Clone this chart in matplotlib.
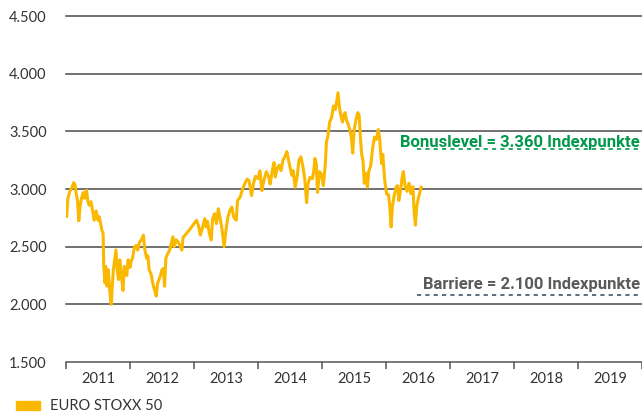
import matplotlib
matplotlib.use("Agg")
import matplotlib.pyplot as plt
from matplotlib.patches import Rectangle

# ---- data (decimal year, index level) ----
t = [2011.00, 2011.01, 2011.03, 2011.06, 2011.09, 2011.12, 2011.14, 2011.16, 2011.18, 2011.20,
     2011.22, 2011.24, 2011.27, 2011.29, 2011.32, 2011.34, 2011.36, 2011.39, 2011.41, 2011.44,
     2011.47, 2011.50, 2011.52, 2011.54, 2011.56, 2011.58, 2011.59, 2011.61, 2011.62, 2011.64,
     2011.66, 2011.68, 2011.70, 2011.71, 2011.72, 2011.74, 2011.76, 2011.78, 2011.80, 2011.82,
     2011.84, 2011.86, 2011.89, 2011.91, 2011.93, 2011.95, 2011.97, 2012.00, 2012.02, 2012.04,
     2012.07, 2012.10, 2012.12, 2012.15, 2012.18, 2012.21, 2012.23, 2012.26, 2012.28, 2012.30,
     2012.33, 2012.35, 2012.37, 2012.39, 2012.41, 2012.43, 2012.45, 2012.47, 2012.50, 2012.52,
     2012.54, 2012.56, 2012.59, 2012.62, 2012.65, 2012.67, 2012.69, 2012.72, 2012.75, 2012.78,
     2012.81, 2012.83, 2012.86, 2012.89, 2012.92, 2012.95, 2013.00, 2013.04, 2013.07, 2013.10,
     2013.13, 2013.17, 2013.19, 2013.21, 2013.24, 2013.27, 2013.29, 2013.32, 2013.35, 2013.38,
     2013.41, 2013.44, 2013.47, 2013.50, 2013.53, 2013.56, 2013.59, 2013.62, 2013.66, 2013.68,
     2013.72, 2013.76, 2013.79, 2013.83, 2013.86, 2013.90, 2013.93, 2013.96, 2014.00, 2014.03,
     2014.06, 2014.09, 2014.13, 2014.17, 2014.19, 2014.22, 2014.25, 2014.27, 2014.30, 2014.33,
     2014.36, 2014.39, 2014.42, 2014.45, 2014.47, 2014.50, 2014.53, 2014.55, 2014.58, 2014.61,
     2014.64, 2014.67, 2014.70, 2014.73, 2014.76, 2014.78, 2014.81, 2014.85, 2014.87, 2014.89,
     2014.91, 2014.93, 2014.96, 2014.99, 2015.02, 2015.05, 2015.07, 2015.09, 2015.12, 2015.15,
     2015.18, 2015.21, 2015.23, 2015.25, 2015.27, 2015.29, 2015.32, 2015.34, 2015.36, 2015.38,
     2015.41, 2015.44, 2015.46, 2015.48, 2015.50, 2015.53, 2015.56, 2015.58, 2015.60, 2015.62,
     2015.64, 2015.66, 2015.68, 2015.71, 2015.73, 2015.76, 2015.79, 2015.82, 2015.85, 2015.88,
     2015.90, 2015.93, 2015.95, 2015.98, 2016.01, 2016.04, 2016.06, 2016.08, 2016.10, 2016.13,
     2016.16, 2016.18, 2016.20, 2016.23, 2016.25, 2016.27, 2016.30, 2016.33, 2016.36, 2016.39,
     2016.42, 2016.44, 2016.46, 2016.48, 2016.51, 2016.55]
stoxx = [2843, 2760, 2920, 2980, 3010, 3055, 3040, 2960, 2900, 2725,
         2850, 2914, 2970, 2920, 2990, 2900, 2860, 2890, 2830, 2730,
         2810, 2729, 2760, 2700, 2643, 2614, 2330, 2186, 2329, 2157,
         2300, 2150, 2014, 2000, 2129, 2300, 2386, 2471, 2300, 2214,
         2386, 2271, 2120, 2329, 2300, 2250, 2386, 2320, 2380, 2400,
         2500, 2510, 2470, 2540, 2560, 2600, 2480, 2400, 2420, 2300,
         2260, 2200, 2150, 2114, 2071, 2180, 2210, 2240, 2300, 2310,
         2157, 2400, 2440, 2470, 2540, 2586, 2500, 2560, 2540, 2510,
         2470, 2580, 2600, 2620, 2640, 2660, 2700, 2729, 2680, 2600,
         2660, 2743, 2671, 2720, 2614, 2557, 2740, 2786, 2700, 2829,
         2740, 2643, 2500, 2643, 2757, 2814, 2843, 2757, 2730, 2900,
         2929, 3000, 3043, 3086, 3070, 2943, 3050, 3110, 3090, 3157,
         2986, 3070, 3150, 3100, 3043, 3150, 3229, 3103, 3180, 3206,
         3160, 3250, 3279, 3324, 3270, 3190, 3118, 3160, 3015, 3100,
         3250, 3279, 3200, 3090, 2882, 3040, 3100, 3090, 3150, 3265,
         3220, 2971, 3150, 3130, 3029, 3200, 3412, 3450, 3580, 3620,
         3720, 3690, 3760, 3834, 3720, 3650, 3580, 3640, 3662, 3600,
         3560, 3500, 3440, 3311, 3500, 3600, 3662, 3640, 3450, 3300,
         3250, 3050, 3137, 3015, 3150, 3200, 3350, 3450, 3430, 3515,
         3440, 3221, 3300, 3074, 2956, 2950, 2846, 2672, 2850, 2950,
         3020, 3029, 2900, 3000, 3090, 3151, 3020, 2980, 3050, 2960,
         3020, 2800, 2686, 2850, 2930, 3015]

years = [2011, 2012, 2013, 2014, 2015, 2016, 2017, 2018, 2019]
y_ticks = [1500, 2000, 2500, 3000, 3500, 4000, 4500]
y_labels = ["1.500", "2.000", "2.500", "3.000", "3.500", "4.000", "4.500"]
bonus_level = 3345
bonus_text = "Bonuslevel = 3.360 Indexpunkte"
barrier_level = 2085
barrier_text = "Barriere = 2.100 Indexpunkte"
series_name = "EURO STOXX 50"

# ---- styling ----
GOLD = "#FBB800"
GRID = "#4a4a4a"
TXT = "#333333"
GREEN = "#00984A"
plt.rcParams["font.family"] = ["Lato", "DejaVu Sans"]

fig = plt.figure(figsize=(6.42, 4.15), dpi=100)
ax = fig.add_axes([66 / 642, (415 - 362) / 415, 1 - 66 / 642, (362 - 16) / 415])
ax.set_xlim(2011, 2020)
ax.set_ylim(1500, 4500)

for yv in y_ticks[1:]:
    ax.axhline(yv, color=GRID, lw=1.1, clip_on=False, zorder=1)

ax.plot(t, stoxx, color=GOLD, lw=2.2, solid_joinstyle="round", zorder=3)

# reference levels
x0 = 2011 + (417 - 66) / 64
ax.plot([x0, 2020], [bonus_level, bonus_level], color=GREEN, lw=1.2,
        linestyle=(0, (2.5, 2.5)), zorder=2, clip_on=False)
ax.text(2019.97, bonus_level + 22, bonus_text, ha="right", va="baseline",
        color=GREEN, fontsize=12, fontweight="bold", family=["Roboto", "DejaVu Sans"])
ax.plot([x0, 2020], [barrier_level, barrier_level], color="#3f5566", lw=1.2,
        linestyle=(0, (2.5, 2.5)), zorder=2, clip_on=False)
ax.text(2019.97, barrier_level + 45, barrier_text, ha="right", va="baseline",
        color="#5a5a5a", fontsize=12, fontweight="bold", family=["Roboto", "DejaVu Sans"])

# axes
for s in ["top", "right", "left"]:
    ax.spines[s].set_visible(False)
ax.spines["bottom"].set_color("#555555")
ax.spines["bottom"].set_linewidth(1.1)
ax.set_yticks(y_ticks)
ax.set_yticklabels(y_labels, fontsize=10.5, color=TXT)
ax.tick_params(axis="y", length=0, pad=14)
ax.set_xticks(years + [2020])
ax.set_xticklabels([])
ax.tick_params(axis="x", which="major", length=5, width=1.1, color="#555555", direction="out")
ax.set_xticks([y + 0.5 for y in years], minor=True)
ax.set_xticklabels([str(y) for y in years], minor=True, fontsize=10.5, color=TXT)
ax.tick_params(axis="x", which="minor", length=0, pad=7)

# legend
fig.patches.append(Rectangle((16 / 642, (415 - 410) / 415), 24 / 642, 9 / 415,
                             transform=fig.transFigure, color=GOLD))
fig.text(50 / 642, (415 - 405.5) / 415, series_name, fontsize=10.5, color=TXT, va="center")

fig.savefig("out.png", dpi=100)
